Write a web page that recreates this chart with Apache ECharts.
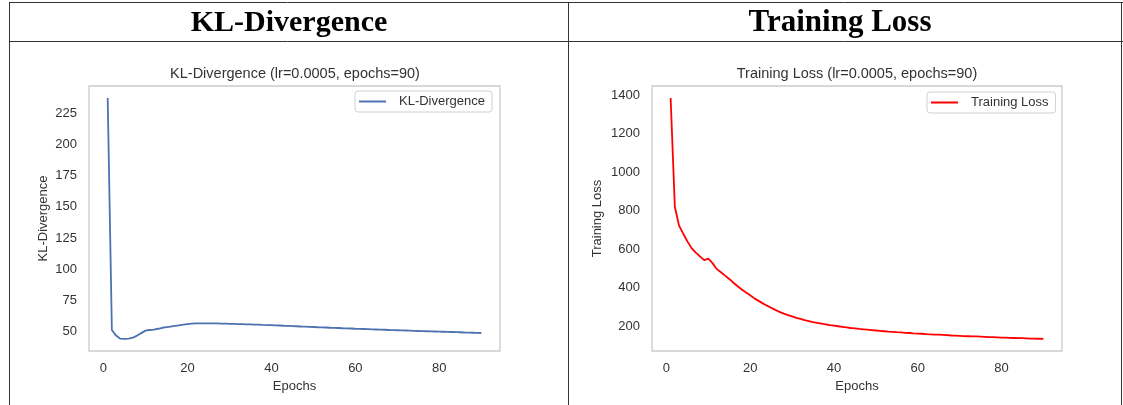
<!DOCTYPE html>
<html>
<head>
<meta charset="utf-8">
<script src="https://cdn.jsdelivr.net/npm/echarts@6/dist/echarts.min.js"></script>
<style>
  html, body { margin: 0; padding: 0; background: #fff; }
  #chart { width: 1123px; height: 405px; }
</style>
</head>
<body>
<div id="chart"></div>
<script>
// ---- data ----
const headerTitles = ['KL-Divergence', 'Training Loss'];
const chartTitles = ['KL-Divergence (lr=0.0005, epochs=90)', 'Training Loss (lr=0.0005, epochs=90)'];
const seriesNames = ['KL-Divergence', 'Training Loss'];
const xAxisName = 'Epochs';
const xTicks = [0, 20, 40, 60, 80];
const klTicks = [50, 75, 100, 125, 150, 175, 200, 225];
const lossTicks = [200, 400, 600, 800, 1000, 1200, 1400];

const epochs = [
  1,2,3,4,5,6,7,8,9,10,11,12,13,14,15,16,17,18,19,20,
  21,22,23,24,25,26,27,28,29,30,31,32,33,34,35,36,37,38,39,40,
  41,42,43,44,45,46,47,48,49,50,51,52,53,54,55,56,57,58,59,60,
  61,62,63,64,65,66,67,68,69,70,71,72,73,74,75,76,77,78,79,80,
  81,82,83,84,85,86,87,88,89,90
];
const klValues = [
  237.5,51.0,46.5,44.0,43.8,44.0,44.8,46.5,48.5,50.5,
  51.0,51.3,52.0,52.8,53.3,53.8,54.3,54.8,55.3,55.8,
  56.1,56.3,56.4,56.4,56.4,56.3,56.3,56.2,56.1,56.0,
  55.9,55.8,55.7,55.6,55.5,55.4,55.3,55.1,55.0,54.9,
  54.7,54.6,54.4,54.3,54.1,54.0,53.8,53.7,53.5,53.4,
  53.2,53.1,53.0,52.8,52.7,52.6,52.4,52.3,52.2,52.0,
  51.9,51.8,51.7,51.5,51.4,51.3,51.2,51.0,50.9,50.8,
  50.7,50.6,50.5,50.3,50.2,50.1,50.0,49.9,49.8,49.7,
  49.6,49.5,49.4,49.3,49.2,49.0,48.9,48.8,48.7,48.6
];
const lossValues = [
  1385,820,722,680,640,605,582,562,543,550,
  527,497,480,462,445,425,407,390,374,360,
  344,331,318,306,295,284,274,265,257,250,
  243,237,231,226,221,217,213,209,205,202,
  199,196,193,190,188,185,183,181,179,177,
  175,173,171,170,168,167,165,164,162,161,
  160,158,157,156,155,154,153,151,150,149,
  148,147,146,146,145,144,143,142,141,140,
  140,139,138,137,137,136,135,135,134,133
];

// ---- chart ----
const FONT = "'Liberation Sans', Arial, sans-serif";
const SERIF = "'Liberation Serif', 'DejaVu Serif', serif";
const TXT = '#333';
const klColor = '#4c72b0';
const lossColor = '#ff0000';

function pairs(xs, ys) { return xs.map((x, i) => [x, ys[i]]); }
const padMin = v => v.min - 0.05 * (v.max - v.min);
const padMax = v => v.max + 0.05 * (v.max - v.min);
const plain = v => String(v);

function xAxis(gi) {
  return {
    type: 'value', gridIndex: gi, min: padMin, max: padMax,
    name: xAxisName, nameLocation: 'middle', nameGap: 29,
    nameTextStyle: { fontFamily: FONT, fontSize: 13, color: TXT },
    axisLine: { show: false }, axisTick: { show: false }, splitLine: { show: false },
    axisLabel: { customValues: xTicks, formatter: plain, fontFamily: FONT, fontSize: 13, color: TXT, margin: 11 }
  };
}
function yAxis(gi, name, ticks, gap) {
  return {
    type: 'value', gridIndex: gi, min: padMin, max: padMax, scale: true,
    name: name, nameLocation: 'middle', nameGap: gap, nameRotate: 90,
    nameTextStyle: { fontFamily: FONT, fontSize: 13, color: TXT },
    axisLine: { show: false }, axisTick: { show: false }, splitLine: { show: false },
    axisLabel: { customValues: ticks, formatter: plain, fontFamily: FONT, fontSize: 13, color: TXT, margin: 12 }
  };
}

const chart = echarts.init(document.getElementById('chart'), null, { renderer: 'canvas' });
const option = {
  backgroundColor: '#fff',
  animation: false,
  title: [
    { text: headerTitles[0], left: 289, top: 23, textAlign: 'center', textVerticalAlign: 'middle', padding: 0,
      textStyle: { fontFamily: SERIF, fontWeight: 'bold', fontSize: 30, color: '#000' } },
    { text: headerTitles[1], left: 840, top: 23, textAlign: 'center', textVerticalAlign: 'middle', padding: 0,
      textStyle: { fontFamily: SERIF, fontWeight: 'bold', fontSize: 31, color: '#000' } },
    { text: chartTitles[0], left: 295, top: 74, textAlign: 'center', textVerticalAlign: 'middle', padding: 0,
      textStyle: { fontFamily: FONT, fontWeight: 'normal', fontSize: 14.5, color: TXT } },
    { text: chartTitles[1], left: 857, top: 74, textAlign: 'center', textVerticalAlign: 'middle', padding: 0,
      textStyle: { fontFamily: FONT, fontWeight: 'normal', fontSize: 14.5, color: TXT } }
  ],
  legend: [
    { data: [seriesNames[0]], left: 355, top: 91, orient: 'horizontal',
      icon: 'rect', itemWidth: 27, itemHeight: 2, padding: [4, 7, 4, 4],
      borderColor: '#d0d0d0', borderWidth: 1, borderRadius: 3, backgroundColor: '#fff',
      textStyle: { fontFamily: FONT, fontSize: 13, color: TXT, padding: [0, 0, 0, 8] } },
    { data: [seriesNames[1]], left: 927, top: 92, orient: 'horizontal',
      icon: 'rect', itemWidth: 27, itemHeight: 2, padding: [4, 7, 4, 4],
      borderColor: '#d0d0d0', borderWidth: 1, borderRadius: 3, backgroundColor: '#fff',
      textStyle: { fontFamily: FONT, fontSize: 13, color: TXT, padding: [0, 0, 0, 8] } }
  ],
  grid: [
    { left: 89, top: 86, width: 411, height: 265, show: true, borderColor: '#cccccc', borderWidth: 1.3, backgroundColor: 'transparent', containLabel: false },
    { left: 652, top: 86, width: 410, height: 265, show: true, borderColor: '#cccccc', borderWidth: 1.3, backgroundColor: 'transparent', containLabel: false }
  ],
  xAxis: [xAxis(0), xAxis(1)],
  yAxis: [yAxis(0, seriesNames[0], klTicks, 39), yAxis(1, seriesNames[1], lossTicks, 48)],
  series: [
    { name: seriesNames[0], type: 'line', xAxisIndex: 0, yAxisIndex: 0, data: pairs(epochs, klValues),
      showSymbol: false, symbol: 'none', color: klColor, lineStyle: { color: klColor, width: 1.8 }, itemStyle: { color: klColor } },
    { name: seriesNames[1], type: 'line', xAxisIndex: 1, yAxisIndex: 1, data: pairs(epochs, lossValues),
      showSymbol: false, symbol: 'none', color: lossColor, lineStyle: { color: lossColor, width: 1.8 }, itemStyle: { color: lossColor } }
  ],
  graphic: [
    { type: 'line', shape: { x1: 9, y1: 2.5, x2: 1123, y2: 2.5 }, style: { stroke: '#333', lineWidth: 1 } },
    { type: 'line', shape: { x1: 9, y1: 41.5, x2: 1123, y2: 41.5 }, style: { stroke: '#333', lineWidth: 1 } },
    { type: 'line', shape: { x1: 9.5, y1: 2, x2: 9.5, y2: 405 }, style: { stroke: '#333', lineWidth: 1 } },
    { type: 'line', shape: { x1: 568.5, y1: 2, x2: 568.5, y2: 405 }, style: { stroke: '#333', lineWidth: 1 } },
    { type: 'line', shape: { x1: 1121.5, y1: 2, x2: 1121.5, y2: 405 }, style: { stroke: '#333', lineWidth: 1 } }
  ]
};
chart.setOption(option);
</script>
</body>
</html>
